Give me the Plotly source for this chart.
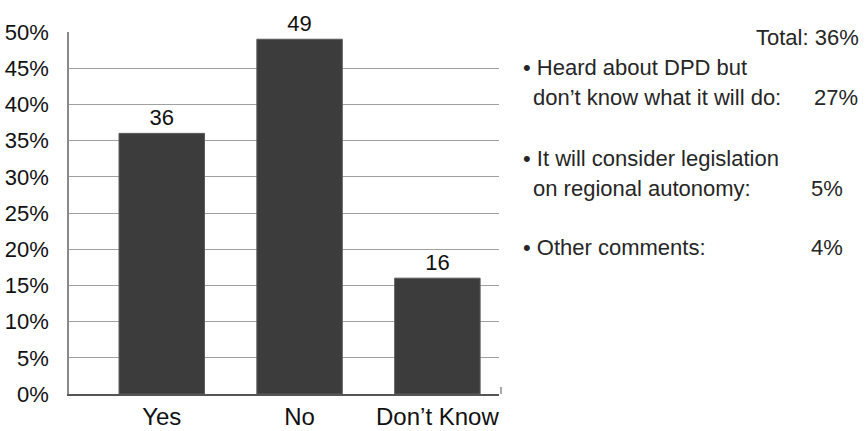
import plotly.graph_objects as go

categories = ["Yes", "No", "Don\u2019t Know"]
values = [36, 49, 16]
tick_vals = [0, 5, 10, 15, 20, 25, 30, 35, 40, 45, 50]
tick_text = [f"{v}%" for v in tick_vals]

side_lines = [
    ("Total: 36%", 861, 37, "right"),
    ("\u2022 Heard about DPD but", 521, 68, "left"),
    ("don\u2019t know what it will do:", 531, 98, "left"),
    ("27%", 860, 98, "right"),
    ("\u2022 It will consider legislation", 521, 158, "left"),
    ("on regional autonomy:", 531, 188, "left"),
    ("5%", 845, 188, "right"),
    ("\u2022 Other comments:", 521, 247, "left"),
    ("4%", 845, 247, "right"),
]

W, H = 867, 431
L, R, T, B = 69, 499, 32, 394
FONT = "Liberation Sans, Arial, sans-serif"

fig = go.Figure(go.Bar(
    x=[0, 1, 2], y=values, width=0.62,
    marker=dict(color="#3c3c3c", line=dict(color="#5a5a5a", width=1)),
    text=[str(v) for v in values], textposition="outside",
    textfont=dict(size=22, color="#111111", family=FONT),
    cliponaxis=False,
))

for txt, px, py, align in side_lines:
    fig.add_annotation(
        text=txt, x=(px - L) / (R - L), y=(B - py) / (B - T),
        xref="paper", yref="paper", showarrow=False,
        xanchor=align, yanchor="middle",
        font=dict(size=22, color="#262626", family=FONT),
    )

fig.add_shape(type="line", xref="paper", yref="paper",
              x0=(501 - L) / (R - L), x1=(501 - L) / (R - L), y0=0, y1=7 / (B - T),
              line=dict(color="#555555", width=1))

fig.update_layout(
    width=W, height=H,
    margin=dict(l=L, r=W - R, t=T, b=H - B, autoexpand=False),
    paper_bgcolor="white", plot_bgcolor="white",
    showlegend=False,
    font=dict(family=FONT, color="#111111"),
    xaxis=dict(
        range=[-0.673, 2.447], tickvals=[0, 1, 2], ticktext=categories,
        tickfont=dict(size=24), showgrid=False, zeroline=False, automargin=False,
        showline=True, linecolor="#555555", linewidth=1.5,
    ),
    yaxis=dict(
        range=[0, 50], tickvals=tick_vals, ticktext=tick_text,
        tickfont=dict(size=22), showgrid=True, gridcolor="#a0a0a0", gridwidth=1,
        zeroline=False, showline=True, linecolor="#8a8a8a", linewidth=1.5,
        ticklabelstandoff=14, automargin=False,
    ),
)

fig.write_html(
    "out.html",
    config={"displayModeBar": False},
    post_script="document.body.style.margin='0';document.body.style.overflow='hidden';",
)
